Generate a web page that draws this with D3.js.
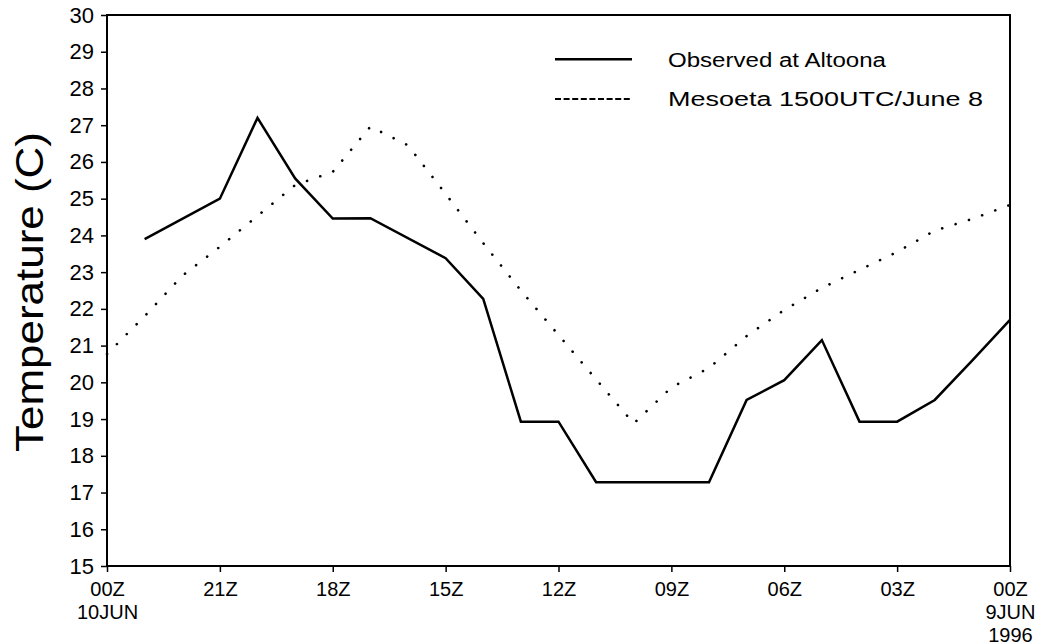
<!DOCTYPE html>
<html>
<head>
<meta charset="utf-8">
<script src="https://cdn.jsdelivr.net/npm/d3@7"></script>
<style>
  body { margin: 0; background: #fff; }
  svg { display: block; font-family: 'Liberation Sans', Arial, sans-serif; }
</style>
</head>
<body>
<svg id="chart" width="1037" height="644"></svg>
<script>
// hours before 00Z 10JUN (left = 0, right = 24)
const obsHours = [1, 3, 4, 5, 6, 7, 9, 10, 11, 12, 13, 16, 17, 18, 19, 20, 21, 22, 23, 24];
const obsTemp = [23.9, 25.0, 27.2, 25.55, 24.46, 24.47, 23.38, 22.27, 18.93, 18.93, 17.28, 17.28,
                 19.52, 20.06, 21.15, 18.93, 18.93, 19.52, 20.6, 21.7];

const modelHours = d3.range(0, 25);
const modelTemp = [20.77, 21.8, 22.9, 23.69, 24.53, 25.37, 25.73, 26.96, 26.45, 25.13, 23.79, 22.5,
                   21.29, 20.08, 18.88, 19.86, 20.39, 21.26, 21.97, 22.57, 23.06, 23.55, 24.13, 24.45, 24.83];

const xTicks = [0, 3, 6, 9, 12, 15, 18, 21, 24];
const xTickLabels = [['00Z', '10JUN'], ['21Z'], ['18Z'], ['15Z'], ['12Z'], ['09Z'], ['06Z'], ['03Z'], ['00Z', '9JUN', '1996']];
const yTicks = d3.range(15, 31);

const seriesNames = ['Observed at Altoona', 'Mesoeta 1500UTC/June 8'];
const yTitle = 'Temperature (C)';

const margin = {top: 15, right: 27, bottom: 78, left: 107};
const width = 1037 - margin.left - margin.right;
const height = 644 - margin.top - margin.bottom;

const svg = d3.select('#chart')
  .append('g')
  .attr('transform', 'translate(' + margin.left + ',' + margin.top + ')');

const x = d3.scaleLinear().domain([0, 24]).range([0, width]);
const y = d3.scaleLinear().domain([15, 30]).range([height, 0]);

// x axis, labels can be 1-3 lines so write them by hand
const xAxis = svg.append('g')
  .attr('transform', 'translate(0,' + height + ')')
  .call(d3.axisBottom(x).tickValues(xTicks).tickSize(6).tickSizeOuter(0).tickFormat(''));
xAxis.select('.domain').remove();
xAxis.selectAll('line').attr('stroke', '#000').attr('stroke-width', 1.5);
xAxis.selectAll('.tick').each(function(d, i) {
  const tick = d3.select(this);
  xTickLabels[i].forEach((s, j) => {
    tick.append('text')
      .attr('fill', '#000')
      .attr('text-anchor', 'middle')
      .attr('y', 29.5 + j * 23)
      .style('font-size', '20px')
      .text(s);
  });
});

// y axis
const yAxis = svg.append('g')
  .call(d3.axisLeft(y).tickValues(yTicks).tickSize(6).tickSizeOuter(0).tickPadding(7));
yAxis.select('.domain').remove();
yAxis.selectAll('line').attr('stroke', '#000').attr('stroke-width', 1.5);
yAxis.selectAll('text')
  .attr('fill', '#000')
  .style('font-size', '22px');

// frame
svg.append('rect')
  .attr('width', width)
  .attr('height', height)
  .attr('fill', 'none')
  .attr('stroke', '#000')
  .attr('stroke-width', 2);

// lines
const line = d3.line().x(d => x(d[0])).y(d => y(d[1]));

svg.append('path')
  .datum(modelHours.map((h, i) => [h, modelTemp[i]]))
  .attr('d', line)
  .attr('fill', 'none')
  .attr('stroke', '#000')
  .attr('stroke-width', 2.6)
  .attr('stroke-linecap', 'round')
  .attr('stroke-dasharray', '0.1,13.9');

svg.append('path')
  .datum(obsHours.map((h, i) => [h, obsTemp[i]]))
  .attr('d', line)
  .attr('fill', 'none')
  .attr('stroke', '#000')
  .attr('stroke-width', 2.5)
  .attr('stroke-linejoin', 'miter');

// legend
const legend = svg.append('g').attr('transform', 'translate(' + (555 - margin.left) + ',0)');
[44.3, 84].forEach((ly, i) => {
  legend.append('line')
    .attr('x1', 0).attr('x2', 77)
    .attr('y1', ly).attr('y2', ly)
    .attr('stroke', '#000')
    .attr('stroke-width', i === 0 ? 2.5 : 2)
    .attr('stroke-dasharray', i === 0 ? null : '6,2.6');
});
legend.append('text')
  .attr('x', 113).attr('y', 52.3)
  .attr('textLength', 218).attr('lengthAdjust', 'spacingAndGlyphs')
  .style('font-size', '19.5px')
  .text(seriesNames[0]);
legend.append('text')
  .attr('x', 113).attr('y', 91)
  .attr('textLength', 315).attr('lengthAdjust', 'spacingAndGlyphs')
  .style('font-size', '19.5px')
  .text(seriesNames[1]);

// y title
d3.select('#chart').append('text')
  .attr('transform', 'translate(43,292) rotate(-90)')
  .attr('text-anchor', 'middle')
  .attr('textLength', 320).attr('lengthAdjust', 'spacingAndGlyphs')
  .style('font-size', '38px')
  .style('font-weight', 300)
  .text(yTitle);
</script>
</body>
</html>
